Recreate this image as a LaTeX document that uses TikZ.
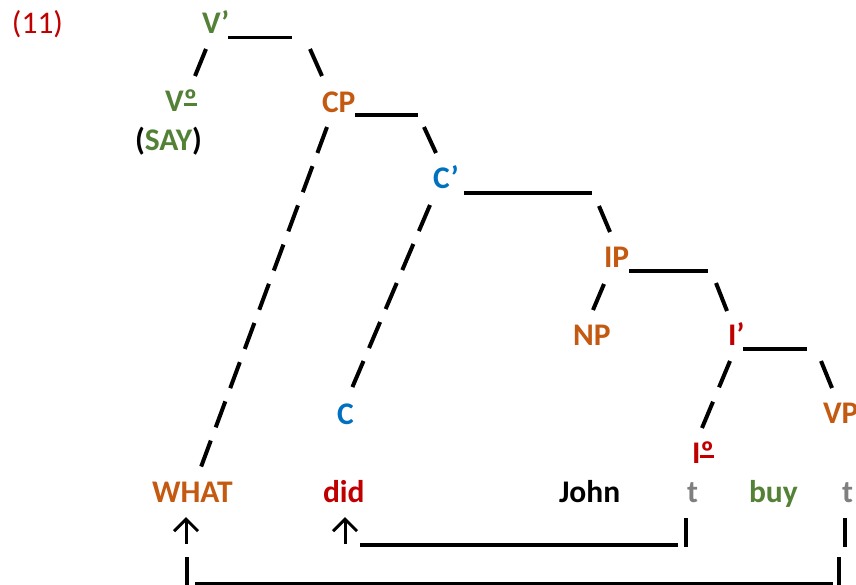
\documentclass[tikz,border=0pt]{standalone}
\usepackage{fontspec}
\setmainfont{Carlito}
\usetikzlibrary{arrows.meta}
\definecolor{cgreen}{HTML}{538135}
\definecolor{corange}{HTML}{C45911}
\definecolor{cblue}{HTML}{0070C0}
\definecolor{cred}{HTML}{C00000}
\definecolor{cgray}{HTML}{7F7F7F}
\newcommand\lblfont{\fontsize{31.5pt}{38pt}\selectfont\bfseries}
\newcommand\lblreg{\fontsize{31.5pt}{38pt}\selectfont}
\newcommand\ordo{{\setbox0\hbox{º}\rlap{\raisebox{5pt}{\rule{\wd0}{2.6pt}}}\box0}}
\tikzset{
  lbl/.style={anchor=base west, inner sep=0pt, outer sep=0pt, font=\lblfont},
  branch/.style={line width=4pt, black},
  dbranch/.style 2 args={line width=4pt, black, dash pattern=on #1 off #2},
  rulebar/.style={line width=3.3pt, black},
  uparrow/.style={line width=3pt, black, -{Straight Barb[length=12pt, width=24pt, line width=3pt]}},
}
\begin{document}
\begin{tikzpicture}[x=1pt, y=-1pt]
\useasboundingbox (0,0) rectangle (856,584);
% labels
\node[lbl, font=\lblreg, text=cred] (ex) at (12,33) {(11)};
\node[lbl, text=cgreen] (Vbar) at (202,33) {V’};
\node[lbl, text=cgreen] (V0) at (165,111) {V\ordo};
\node[lbl] (say) at (135,150) {(\textcolor{cgreen}{SAY})};
\node[lbl, text=corange] (CP) at (322,112) {CP};
\node[lbl, text=cblue] (Cbar) at (433,188) {C’};
\node[lbl, text=corange] (IP) at (604,267) {IP};
\node[lbl, text=corange] (NP) at (573,345) {NP};
\node[lbl, text=cred] (Ibar) at (728,345) {I’};
\node[lbl, text=cblue] (C) at (337,424) {C};
\node[lbl, text=corange] (VP) at (823,423) {VP};
\node[lbl, text=cred] (I0) at (692,463) {I\ordo};
\node[lbl, text=corange] (what) at (152,502) {WHAT};
\node[lbl, text=cred] (did) at (323,502) {did};
\node[lbl] (john) at (559,502) {John};
\node[lbl, text=cgray] (t1) at (687,502) {t};
\node[lbl, text=cgreen] (buy) at (749,502) {buy};
\node[lbl, text=cgray] (t2) at (842,502) {t};
% branch end points
\coordinate (vbarL) at (206,49);  \coordinate (v0T) at (195,76);
\coordinate (vbarR) at (310,49);  \coordinate (cpT) at (322,76);
\coordinate (cpL) at (327,127);   \coordinate (whatT) at (201,467);
\coordinate (cpR) at (424,127);   \coordinate (cbarT) at (436,153);
\coordinate (cbarL) at (430,205); \coordinate (cT) at (352,388);
\coordinate (cbarR) at (599,206); \coordinate (ipT) at (610,232);
\coordinate (ipL) at (604,284);   \coordinate (npT) at (593,310);
\coordinate (ipR) at (716,283);   \coordinate (ibarT) at (727,311);
\coordinate (ibarL) at (730,361); \coordinate (i0T) at (702,428);
\coordinate (ibarR) at (821,361); \coordinate (vpT) at (832,388);
% branches
\draw[branch] (vbarL) -- (v0T);
\draw[branch] (vbarR) -- (cpT);
\draw[dbranch={27.7pt}{14.1pt}] (cpL) -- (whatT);
\draw[branch] (cpR) -- (cbarT);
\draw[dbranch={28.3pt}{14.1pt}] (cbarL) -- (cT);
\draw[branch] (cbarR) -- (ipT);
\draw[branch] (ipL) -- (npT);
\draw[branch] (ipR) -- (ibarT);
\draw[dbranch={28.5pt}{15.6pt}] (ibarL) -- (i0T);
\draw[branch] (ibarR) -- (vpT);
% bar-level underscores
\coordinate (u1a) at (228,37.5); \coordinate (u1b) at (292,37.5);
\coordinate (u2a) at (355,115);  \coordinate (u2b) at (418,115);
\coordinate (u3a) at (464,193);  \coordinate (u3b) at (592,193);
\coordinate (u4a) at (629,271);  \coordinate (u4b) at (708,271);
\coordinate (u5a) at (743,349);  \coordinate (u5b) at (807,349);
\draw[rulebar] (u1a) -- (u1b);
\draw[rulebar] (u2a) -- (u2b);
\draw[rulebar] (u3a) -- (u3b);
\draw[rulebar] (u4a) -- (u4b);
\draw[rulebar] (u5a) -- (u5b);
% movement lines
\coordinate (a1b) at (186,544); \coordinate (a1t) at (186,517);
\coordinate (a2b) at (345,544); \coordinate (a2t) at (345,517);
\draw[uparrow] (a1b) -- (a1t);
\draw[uparrow] (a2b) -- (a2t);
\coordinate (m1a) at (360,545); \coordinate (m1b) at (678,545);
\draw[rulebar] (m1a) -- (m1b);
\coordinate (k1t) at (686,518); \coordinate (k1b) at (686,547);
\draw[rulebar] (k1t) -- (k1b);
\coordinate (k2t) at (845,518); \coordinate (k2b) at (845,547);
\draw[rulebar] (k2t) -- (k2b);
\coordinate (k3t) at (187,557); \coordinate (k3b) at (187,586);
\draw[rulebar] (k3t) -- (k3b);
\coordinate (k4t) at (839,557); \coordinate (k4b) at (839,586);
\draw[rulebar] (k4t) -- (k4b);
\coordinate (m2a) at (195,583.5); \coordinate (m2b) at (833,583.5);
\draw[rulebar] (m2a) -- (m2b);
\end{tikzpicture}
\end{document}
